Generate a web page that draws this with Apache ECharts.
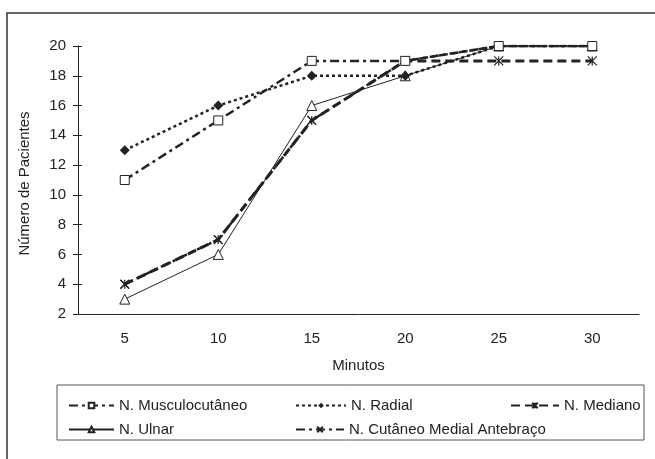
<!DOCTYPE html>
<html>
<head>
<meta charset="utf-8">
<script src="https://cdn.jsdelivr.net/npm/echarts@6/dist/echarts.min.js"></script>
<style>
  html, body { margin: 0; padding: 0; background: #fff; }
  #chart { width: 655px; height: 459px; }
</style>
</head>
<body>
<div id="chart"></div>
<script>
// Minutes after block and number of patients with complete block per nerve
const minutos = ['5', '10', '15', '20', '25', '30'];
const musculocutaneo = [11, 15, 19, 19, 20, 20];
const radial = [13, 16, 18, 18, 20, 20];
const mediano = [4, 7, 15, 19, 19, 19];
const ulnar = [3, 6, 16, 18, 20, 20];
const cutaneoMedial = [4, 7, 15, 19, 20, 20];
const yTicks = { min: 2, max: 20, step: 2 };

const INK = '#222';
const FONT = 'Liberation Sans, Arial, sans-serif';
const FS = 15;

const asteriskPath = 'path://M0,0 L10,10 M10,0 L0,10 M5,0 L5,10';
const crossPath = 'path://M0,0 L10,10 M10,0 L0,10';

const gridBox = { left: 78, top: 46, width: 561, height: 268 };

function lineSeries(name, data, lineStyle, symbol, symbolSize, itemStyle) {
  return {
    name, type: 'line', data,
    xAxisIndex: 0, yAxisIndex: 0,
    symbol, symbolSize,
    lineStyle: Object.assign({ color: INK }, lineStyle),
    itemStyle: Object.assign({ color: INK, borderColor: INK }, itemStyle),
    emphasis: { disabled: true },
    animation: false
  };
}

const series = [
  lineSeries('N. Ulnar', ulnar, { width: 1 }, 'triangle', 10,
    { color: '#fff', borderWidth: 1 }),
  lineSeries('N. Mediano', mediano, { width: 3, type: [9, 5] }, asteriskPath, 9,
    { color: 'none', borderWidth: 1.2 }),
  lineSeries('N. Cutâneo Medial Antebraço', cutaneoMedial, { width: 2.5, type: [9, 4, 3, 4] }, crossPath, 8,
    { color: 'none', borderWidth: 1.2 }),
  lineSeries('N. Radial', radial, { width: 2.5, type: [3, 3] }, 'diamond', 10,
    { borderWidth: 0 }),
  lineSeries('N. Musculocutâneo', musculocutaneo, { width: 2.5, type: [9, 4, 3, 4] }, 'rect', 9,
    { color: '#fff', borderWidth: 1 })
];

function legendAt(name, left, top, width) {
  return {
    data: [name], left, top,
    itemWidth: width, itemHeight: 7, itemGap: 0,
    selectedMode: false,
    textStyle: { color: INK, fontSize: FS, fontFamily: FONT }
  };
}

const chart = echarts.init(document.getElementById('chart'), null, { renderer: 'canvas' });
chart.setOption({
  backgroundColor: '#fff',
  animation: false,
  textStyle: { fontFamily: FONT },
  grid: [Object.assign({}, gridBox), Object.assign({}, gridBox)],
  xAxis: [
    {
      type: 'category', data: minutos, gridIndex: 0,
      name: 'Minutos', nameLocation: 'middle', nameGap: 44,
      nameTextStyle: { color: INK, fontSize: FS, fontFamily: FONT },
      axisLine: { lineStyle: { color: INK, width: 1 } },
      axisTick: { length: 5, lineStyle: { color: INK } },
      axisLabel: { color: INK, fontSize: FS, margin: 17, fontFamily: FONT },
      splitLine: { show: false }
    },
    {
      type: 'category', data: minutos, gridIndex: 1,
      axisLine: { show: false },
      axisTick: { inside: true, length: 4, lineStyle: { color: INK } },
      axisLabel: { show: false },
      splitLine: { show: false }
    }
  ],
  yAxis: [
    {
      type: 'value', gridIndex: 0,
      min: yTicks.min, max: yTicks.max, interval: yTicks.step,
      name: 'Número de Pacientes', nameLocation: 'middle', nameGap: 46,
      nameTextStyle: { color: INK, fontSize: FS, fontFamily: FONT, padding: [0, 7, 0, 0] },
      axisLine: { show: true, lineStyle: { color: INK, width: 1 } },
      axisTick: { show: true, length: 5, lineStyle: { color: INK } },
      axisLabel: { color: INK, fontSize: FS, margin: 12, fontFamily: FONT },
      splitLine: { show: false }
    },
    {
      type: 'value', gridIndex: 1,
      min: yTicks.min, max: yTicks.max, interval: yTicks.step,
      axisLine: { show: false },
      axisTick: { show: true, inside: true, length: 4, lineStyle: { color: INK } },
      axisLabel: { show: false },
      splitLine: { show: false }
    }
  ],
  legend: [
    legendAt('N. Musculocutâneo', 63, 393, 45),
    legendAt('N. Radial', 290, 393, 50),
    legendAt('N. Mediano', 505, 393, 48),
    legendAt('N. Ulnar', 63, 417, 45),
    legendAt('N. Cutâneo Medial Antebraço', 290, 417, 48)
  ],
  graphic: [
    {
      type: 'rect', silent: true,
      shape: { x: 7, y: 13, width: 660, height: 470 },
      style: { fill: 'none', stroke: '#333', lineWidth: 1.5 }
    },
    {
      type: 'rect', silent: true,
      shape: { x: 57, y: 385, width: 587, height: 55 },
      style: { fill: 'none', stroke: '#555', lineWidth: 1 }
    }
  ],
  series
});
</script>
</body>
</html>
